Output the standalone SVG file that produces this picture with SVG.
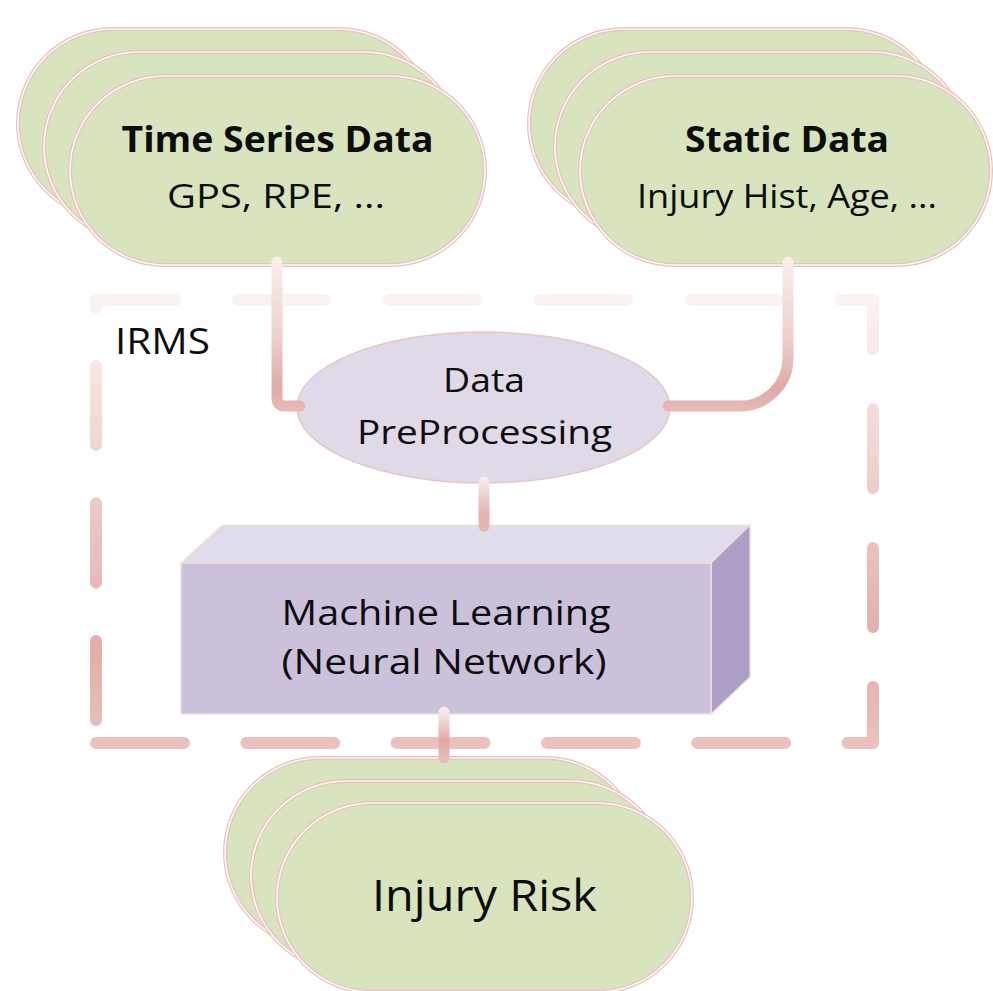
<svg xmlns="http://www.w3.org/2000/svg" width="993" height="991" viewBox="0 0 993 991">
<style>
  .pill-o { fill: #d7e4bd; stroke: #e7c1bf; stroke-width: 4; }
  .pill-i { fill: none; stroke: #fdf6f5; stroke-width: 1.6; }
  .t { font-family: "Open Sans", "Noto Sans", "Liberation Sans", sans-serif; fill: #0d0d0d; text-anchor: middle; }
  .b { font-weight: bold; }
  .dash { fill: none; stroke: url(#gBorder); stroke-width: 12; stroke-linecap: round; }
  .conn { fill: none; stroke-width: 11; stroke-linecap: round; stroke-linejoin: round; }
</style>
<defs>
  <linearGradient id="gBorder" gradientUnits="userSpaceOnUse" x1="0" y1="294" x2="0" y2="750">
    <stop offset="0" stop-color="#fbf4f2"/>
    <stop offset="0.3" stop-color="#f1d9d7"/>
    <stop offset="0.78" stop-color="#e2adaa"/>
    <stop offset="1" stop-color="#ebc3c0"/>
  </linearGradient>
  <linearGradient id="gL" gradientUnits="userSpaceOnUse" x1="0" y1="262" x2="0" y2="410">
    <stop offset="0" stop-color="#f8eeec"/>
    <stop offset="0.5" stop-color="#eed0cd"/>
    <stop offset="0.85" stop-color="#e0aaa6"/>
    <stop offset="1" stop-color="#e8bab7"/>
  </linearGradient>
  <linearGradient id="gM" gradientUnits="userSpaceOnUse" x1="0" y1="480" x2="0" y2="528">
    <stop offset="0" stop-color="#f7ebe9"/>
    <stop offset="0.7" stop-color="#e4b1ae"/>
    <stop offset="1" stop-color="#e6b6b3"/>
  </linearGradient>
  <linearGradient id="gB" gradientUnits="userSpaceOnUse" x1="0" y1="710" x2="0" y2="760">
    <stop offset="0" stop-color="#f8eeec"/>
    <stop offset="0.6" stop-color="#e0a9a6"/>
    <stop offset="1" stop-color="#e8bcb9"/>
  </linearGradient>
</defs>

<g id="irms-boundary">
  <path class="dash" d="M96,300 H873" stroke-dasharray="88 62.7" stroke-dashoffset="8.7"/>
  <path class="dash" d="M873,300 V743" stroke-dasharray="79 60" stroke-dashoffset="30"/>
  <path class="dash" d="M96,300 V743" stroke-dasharray="79 58.5" stroke-dashoffset="71.5"/>
  <path class="dash" d="M96,743 H873" stroke-dasharray="88 62.3" stroke-dashoffset="0"/>
  <text class="t" x="115" y="354" font-size="36" text-anchor="start" style="text-anchor:start" textLength="95" lengthAdjust="spacingAndGlyphs">IRMS</text>
</g>

<g id="time-series-data">
  <rect class="pill-o" x="18" y="29" width="415" height="189" rx="94.5"/>
  <rect class="pill-i" x="18" y="29" width="415" height="189" rx="94.5"/>
  <rect class="pill-o" x="44" y="52" width="415" height="189" rx="94.5"/>
  <rect class="pill-i" x="44" y="52" width="415" height="189" rx="94.5"/>
  <rect class="pill-o" x="70" y="76" width="415" height="189" rx="94.5"/>
  <rect class="pill-i" x="70" y="76" width="415" height="189" rx="94.5"/>
  <text class="t b" x="277.5" y="152" font-size="36" textLength="312" lengthAdjust="spacingAndGlyphs">Time Series Data</text>
  <text class="t" x="276" y="208" font-size="33" textLength="218" lengthAdjust="spacingAndGlyphs">GPS, RPE, ...</text>
</g>

<g id="static-data">
  <rect class="pill-o" x="529" y="29" width="412" height="189" rx="94.5"/>
  <rect class="pill-i" x="529" y="29" width="412" height="189" rx="94.5"/>
  <rect class="pill-o" x="555" y="52" width="412" height="189" rx="94.5"/>
  <rect class="pill-i" x="555" y="52" width="412" height="189" rx="94.5"/>
  <rect class="pill-o" x="580" y="76" width="411" height="189" rx="94.5"/>
  <rect class="pill-i" x="580" y="76" width="411" height="189" rx="94.5"/>
  <text class="t b" x="787" y="152" font-size="36" textLength="204" lengthAdjust="spacingAndGlyphs">Static Data</text>
  <text class="t" x="787" y="208" font-size="33" textLength="300" lengthAdjust="spacingAndGlyphs">Injury Hist, Age, ...</text>
</g>

<g id="data-preprocessing">
  <ellipse cx="483.5" cy="407.5" rx="186.5" ry="75.5" fill="#dfd9e8" stroke="#e8c6c3" stroke-width="1.5"/>
  <text class="t" x="484" y="392" font-size="32" textLength="82" lengthAdjust="spacingAndGlyphs">Data</text>
  <text class="t" x="484.5" y="444" font-size="32" textLength="255" lengthAdjust="spacingAndGlyphs">PreProcessing</text>
</g>

<g id="machine-learning">
  <polygon points="181,563 222,525 750,525 711,563" fill="#e0dcea" stroke="#f3e2e2" stroke-width="1.2"/>
  <polygon points="711,563 750,525 750,677 711,714" fill="#ae9fc7" stroke="#f0dcdc" stroke-width="1.2"/>
  <rect x="181" y="563" width="530" height="151" fill="#cbc1da" stroke="#f2dfdf" stroke-width="1.5"/>
  <text class="t" x="446" y="625" font-size="35" textLength="329" lengthAdjust="spacingAndGlyphs">Machine Learning</text>
  <text class="t" x="444" y="674" font-size="35" textLength="325" lengthAdjust="spacingAndGlyphs">(Neural Network)</text>
</g>

<g id="injury-risk">
  <rect class="pill-o" x="225" y="758" width="415" height="189" rx="94.5"/>
  <rect class="pill-i" x="225" y="758" width="415" height="189" rx="94.5"/>
  <rect class="pill-o" x="251" y="781" width="415" height="189" rx="94.5"/>
  <rect class="pill-i" x="251" y="781" width="415" height="189" rx="94.5"/>
  <rect class="pill-o" x="277" y="803" width="415" height="189" rx="94.5"/>
  <rect class="pill-i" x="277" y="803" width="415" height="189" rx="94.5"/>
  <text class="t" x="484.5" y="911" font-size="43" textLength="225" lengthAdjust="spacingAndGlyphs">Injury Risk</text>
</g>

<g id="connectors">
  <path class="conn" stroke="url(#gL)" d="M277,262 V398 Q277,406 285,406 H300"/>
  <path class="conn" stroke="url(#gL)" d="M788,262 V358 A48,48 0 0 1 740,406 H668"/>
  <path class="conn" stroke="url(#gM)" d="M484,482 V526"/>
  <path class="conn" stroke="url(#gB)" d="M444,712 V758"/>
</g>
</svg>
